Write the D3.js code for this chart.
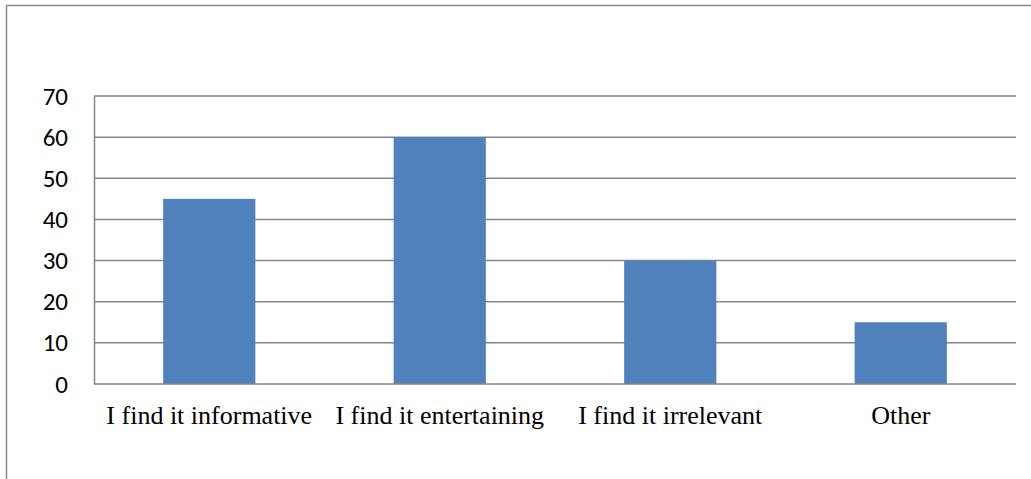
<!DOCTYPE html>
<html>
<head>
<meta charset="utf-8">
<script src="https://cdn.jsdelivr.net/npm/d3@7"></script>
<style>
  body { margin: 0; background: #fff; }
</style>
</head>
<body>
<div class="chart"></div>
<script>
const categories = ['I find it informative', 'I find it entertaining', 'I find it irrelevant', 'Other'];
const values = [45, 60, 30, 15];
const yTicks = [0, 10, 20, 30, 40, 50, 60, 70];

function build_svg() {
   const svg = d3.select('.chart')
      .append('svg')
      .attr('width', 1031)
      .attr('height', 479);
   // outer chart frame
   svg.append('rect')
      .attr('x', 6.5).attr('y', 5.5)
      .attr('width', 1040).attr('height', 500)
      .attr('fill', 'none')
      .attr('stroke', '#8a8a8a')
      .attr('stroke-width', 1.5);
   return svg;
}

function draw_chart() {
   const margin = {left: 94, top: 96, right: 1016, bottom: 384};
   const svg = build_svg();

   const xScale = d3.scaleBand()
      .domain(categories)
      .range([margin.left, margin.right])
      .paddingInner(0.6)
      .paddingOuter(0.3);

   const yScale = d3.scaleLinear()
      .domain([0, 70])
      .range([margin.bottom, margin.top]);

   // gridlines
   svg.append('g')
      .selectAll('line')
      .data(yTicks.filter(d => d > 0))
      .enter()
      .append('line')
      .attr('x1', margin.left).attr('x2', margin.right)
      .attr('y1', d => yScale(d)).attr('y2', d => yScale(d))
      .attr('stroke', '#868686')
      .attr('stroke-width', 1.5);

   // bars
   svg.append('g')
      .selectAll('rect')
      .data(values)
      .enter()
      .append('rect')
      .attr('x', (d, i) => xScale(categories[i]))
      .attr('y', d => yScale(d))
      .attr('width', xScale.bandwidth())
      .attr('height', d => yScale(0) - yScale(d))
      .attr('fill', '#4f81bd');

   // y axis
   const yAxis = d3.axisLeft(yScale).tickValues(yTicks).tickSize(0).tickPadding(26);
   const yG = svg.append('g')
      .attr('transform', `translate(${margin.left},0)`)
      .call(yAxis);
   yG.select('.domain').attr('stroke', '#868686').attr('stroke-width', 1.5);
   yG.selectAll('text')
      .attr('font-family', 'Carlito, Lato, "Open Sans", sans-serif')
      .attr('font-size', 25)
      .attr('fill', '#000');

   // x axis
   const xAxis = d3.axisBottom(xScale).tickSize(0).tickPadding(22).tickSizeOuter(0);
   const xG = svg.append('g')
      .attr('transform', `translate(0,${margin.bottom})`)
      .call(xAxis);
   xG.select('.domain')
      .attr('d', `M${margin.left},0H${margin.right}`)
      .attr('stroke', '#868686').attr('stroke-width', 1.5);
   xG.selectAll('text')
      .attr('font-family', '"Liberation Serif", "Times New Roman", serif')
      .attr('font-size', 26)
      .attr('fill', '#000');
}

draw_chart();
</script>
</body>
</html>
